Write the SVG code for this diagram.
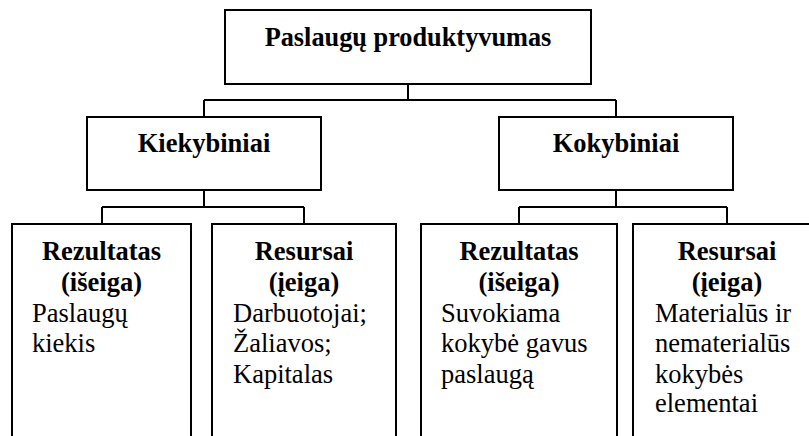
<svg xmlns="http://www.w3.org/2000/svg" width="809" height="436" viewBox="0 0 809 436">
  <style>
    .box { fill: #ffffff; stroke: #000000; stroke-width: 2; }
    .link { fill: none; stroke: #000000; stroke-width: 2; }
  </style>
  <rect width="809" height="436" fill="#ffffff"/>

  <!-- tree connectors -->
  <g id="connectors">
    <path class="link" d="M408 84 V100 M204 100 H616 M204 100 V117 M616 100 V117"/>
    <path class="link" d="M204 190 V207 M102 207 H304 M102 207 V224 M304 207 V224"/>
    <path class="link" d="M616 190 V207 M519 207 H727 M519 207 V224 M727 207 V224"/>
  </g>

  <!-- root -->
  <g id="node-root" font-family="Liberation Serif, serif">
    <rect class="box" x="225" y="10" width="366" height="74"/>
    <text x="408" y="46" font-size="26.3" font-weight="bold" text-anchor="middle">Paslaugų produktyvumas</text>
  </g>

  <!-- second level -->
  <g id="node-kiekybiniai" font-family="Liberation Serif, serif">
    <rect class="box" x="87" y="117" width="234" height="73"/>
    <text x="204" y="152" font-size="26.5" font-weight="bold" text-anchor="middle">Kiekybiniai</text>
  </g>
  <g id="node-kokybiniai" font-family="Liberation Serif, serif">
    <rect class="box" x="499" y="117" width="234" height="73"/>
    <text x="616" y="152" font-size="26.5" font-weight="bold" text-anchor="middle">Kokybiniai</text>
  </g>

  <!-- leaves (run past the lower edge) -->
  <g id="node-kiek-rezultatas" font-family="Liberation Serif, serif" font-size="26.5">
    <rect class="box" x="12" y="224" width="179" height="240"/>
    <text x="101.5" y="260" font-weight="bold" text-anchor="middle">Rezultatas</text>
    <text x="101.5" y="291" font-weight="bold" text-anchor="middle">(išeiga)</text>
    <text x="32" y="322">Paslaugų</text>
    <text x="32" y="352">kiekis</text>
  </g>
  <g id="node-kiek-resursai" font-family="Liberation Serif, serif" font-size="26.5">
    <rect class="box" x="212" y="224" width="184" height="240"/>
    <text x="304" y="260" font-weight="bold" text-anchor="middle">Resursai</text>
    <text x="304" y="291" font-weight="bold" text-anchor="middle">(įeiga)</text>
    <text x="233" y="322">Darbuotojai;</text>
    <text x="233" y="352">Žaliavos;</text>
    <text x="233" y="383">Kapitalas</text>
  </g>
  <g id="node-kok-rezultatas" font-family="Liberation Serif, serif" font-size="26.5">
    <rect class="box" x="421" y="224" width="196" height="240"/>
    <text x="519" y="260" font-weight="bold" text-anchor="middle">Rezultatas</text>
    <text x="519" y="291" font-weight="bold" text-anchor="middle">(išeiga)</text>
    <text x="441" y="322">Suvokiama</text>
    <text x="441" y="352">kokybė gavus</text>
    <text x="441" y="383">paslaugą</text>
  </g>
  <g id="node-kok-resursai" font-family="Liberation Serif, serif" font-size="26.5">
    <rect class="box" x="633" y="224" width="188" height="240"/>
    <text x="727" y="260" font-weight="bold" text-anchor="middle">Resursai</text>
    <text x="727" y="291" font-weight="bold" text-anchor="middle">(įeiga)</text>
    <text x="655" y="322">Materialūs ir</text>
    <text x="655" y="352">nematerialūs</text>
    <text x="655" y="383">kokybės</text>
    <text x="655" y="412">elementai</text>
  </g>
</svg>
